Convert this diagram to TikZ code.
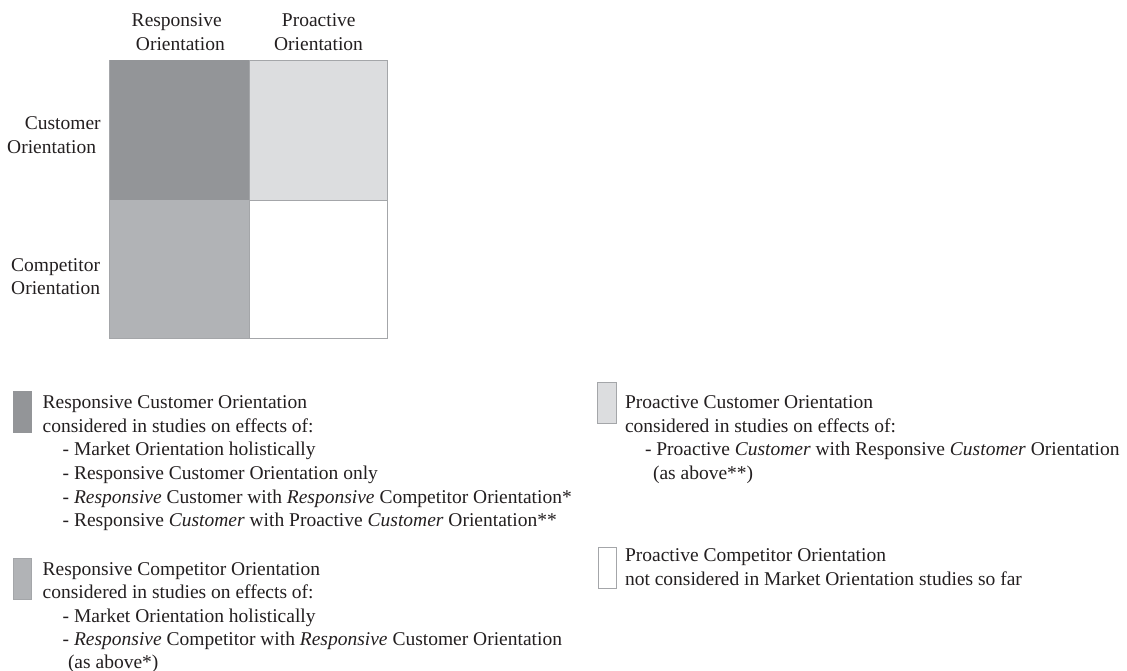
\documentclass[tikz,border=0pt]{standalone}
\usepackage{fontspec}
\setmainfont{Liberation Serif}
\definecolor{darkc}{HTML}{939598}
\definecolor{midc}{HTML}{B1B3B6}
\definecolor{lightc}{HTML}{DCDDDF}
\definecolor{edgec}{HTML}{A4A6A9}
\definecolor{textc}{HTML}{231F20}
\begin{document}
\begin{tikzpicture}[x=1pt,y=-1pt,
  txt/.style={inner sep=0pt, outer sep=0pt, anchor=base west, text=textc, font=\fontsize{19.5}{23.5}\selectfont},
  rtxt/.style={txt, anchor=base east},
  ctxt/.style={txt, anchor=base},
  cell/.style={draw=edgec, line width=0.8pt, inner sep=0pt, outer sep=0pt, anchor=north west},
  swatch/.style={draw=edgec, line width=0.8pt, inner sep=0pt, outer sep=0pt, anchor=north west, minimum width=18.5pt, minimum height=41pt}]
\useasboundingbox (0,0) rectangle (1127,671);
% matrix cells
\node[cell, fill=darkc, draw=darkc, minimum width=140pt, minimum height=140pt] (c11) at (109,60) {};
\node[cell, fill=lightc, minimum width=138.3pt, minimum height=140pt] (c12) at (249,60) {};
\node[cell, fill=midc, draw=midc, minimum width=140pt, minimum height=138.3pt] (c21) at (109,200) {};
\node[cell, fill=white, minimum width=138.3pt, minimum height=138.3pt] (c22) at (249,200) {};
\draw[edgec, line width=0.8pt] (109,338.3) -- (387.3,338.3) -- (387.3,60);
\draw[edgec, line width=0.8pt] (109,60) -- (109,338.3);
% column headers
\node[ctxt] (h1a) at (176.7,26.3) {Responsive};
\node[ctxt] (h1b) at (180.4,50.3) {Orientation};
\node[ctxt] (h2a) at (318.8,26.3) {Proactive};
\node[ctxt] (h2b) at (318.5,50.3) {Orientation};
% row labels
\node[rtxt] (r1a) at (100.7,129.8) {Customer};
\node[rtxt] (r1b) at (96,153.2) {Orientation};
\node[rtxt] (r2a) at (100,271.5) {Competitor};
\node[rtxt] (r2b) at (100,294.8) {Orientation};
% legend swatches
\node[swatch, fill=darkc, draw=darkc] (s1) at (13,391) {};
\node[swatch, fill=midc] (s2) at (13,558) {};
\node[swatch, fill=lightc] (s3) at (597.5,382.3) {};
\node[swatch, fill=white] (s4) at (598,547) {};
% legend 1
\node[txt] (l1a) at (42.7,408.2) {Responsive Customer Orientation};
\node[txt] (l1b) at (42.7,432) {considered in studies on effects of:};
\node[txt] (l1c) at (62.7,455.7) {- Market Orientation holistically};
\node[txt] (l1d) at (62.7,479.3) {- Responsive Customer Orientation only};
\node[txt] (l1e) at (62.7,503) {- \textit{Responsive} Customer with \textit{Responsive} Competitor Orientation*};
\node[txt] (l1f) at (62.7,526.5) {- Responsive \textit{Customer} with Proactive \textit{Customer} Orientation**};
% legend 2
\node[txt] (l2a) at (42.7,575.3) {Responsive Competitor Orientation};
\node[txt] (l2b) at (42.7,598.8) {considered in studies on effects of:};
\node[txt] (l2c) at (62.7,622.3) {- Market Orientation holistically};
\node[txt] (l2d) at (62.7,645.8) {- \textit{Responsive} Competitor with \textit{Responsive} Customer Orientation};
\node[txt] (l2e) at (68,668.3) {(as above*)};
% legend 3
\node[txt] (l3a) at (625,408.2) {Proactive Customer Orientation};
\node[txt] (l3b) at (625,432) {considered in studies on effects of:};
\node[txt] (l3c) at (645,455.7) {- Proactive \textit{Customer} with Responsive \textit{Customer} Orientation};
\node[txt] (l3d) at (653,479.3) {(as above**)};
% legend 4
\node[txt] (l4a) at (625,561.5) {Proactive Competitor Orientation};
\node[txt] (l4b) at (625,585.3) {not considered in Market Orientation studies so far};
\end{tikzpicture}
\end{document}
